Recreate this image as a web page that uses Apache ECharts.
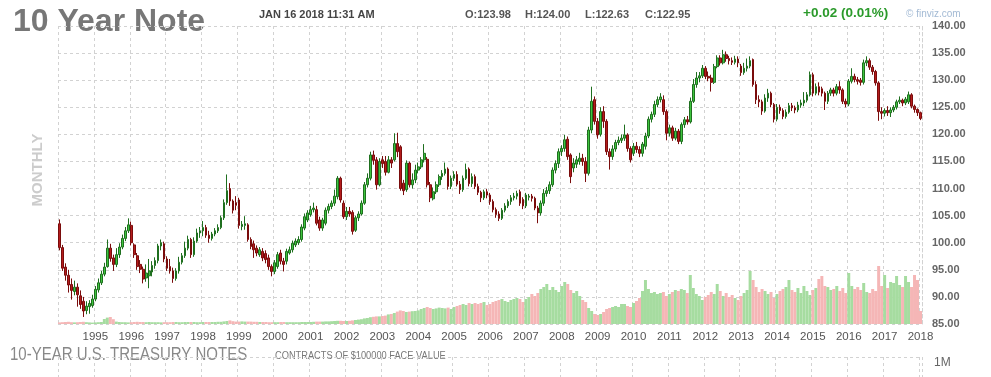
<!DOCTYPE html>
<html><head><meta charset="utf-8">
<script src="https://cdn.jsdelivr.net/npm/echarts@6/dist/echarts.min.js"></script>
<style>html,body{margin:0;padding:0;background:#fff}#c{width:991px;height:377px}</style>
</head><body><div id="c"></div>
<script>
// ---- data (monthly, Jan 1994 .. Jan 2018), rows = [open, close, low, high]
const startYear = 1994;
const candles = [
// 1994
[103.5,99.1,98.6,104.3],[99.1,95.3,94.8,99.6],[95.5,94.0,93.0,96.2],[94.0,92.2,90.8,95.0],[92.3,91.2,89.5,93.4],[91.0,91.8,90.3,93.0],[91.8,90.4,88.2,92.5],[90.2,88.6,87.8,91.2],[89.2,87.4,86.3,90.0],[87.5,88.3,86.8,89.2],[88.2,88.8,86.9,89.4],[88.4,89.6,88.0,90.4],
// 1995
[89.6,91.4,89.2,92.0],[91.3,92.6,90.8,93.4],[92.6,94.2,92.2,94.8],[94.2,95.5,93.8,96.3],[95.6,99.0,95.4,100.6],[99.0,97.1,96.5,99.8],[97.2,96.0,94.8,97.8],[96.0,97.8,95.5,99.0],[97.8,99.2,97.2,99.9],[99.2,100.8,98.8,101.5],[100.8,102.2,100.3,102.9],[102.2,103.3,101.8,104.5],
// 1996
[103.2,100.0,99.5,103.9],[99.6,97.8,97.2,99.9],[97.6,95.6,95.0,98.1],[96.0,95.1,94.4,96.8],[95.1,93.3,92.5,95.6],[93.5,94.4,92.8,96.0],[93.9,94.8,91.6,97.0],[94.6,95.8,93.8,96.6],[95.8,96.7,95.2,97.3],[96.7,99.4,96.2,99.8],[99.4,100.0,98.6,100.6],[99.8,97.0,96.4,100.2],
// 1997
[97.0,95.3,94.8,97.5],[95.6,94.8,94.3,97.0],[94.8,93.4,92.6,95.4],[93.4,94.8,93.0,95.3],[94.8,96.4,94.3,97.4],[96.4,97.6,96.0,98.1],[97.6,99.0,97.2,100.2],[99.0,100.6,98.6,101.3],[100.6,97.8,97.2,100.9],[97.8,100.3,97.4,101.0],[100.3,101.8,100.0,102.6],[101.8,102.2,100.9,102.9],
// 1998
[102.2,102.8,101.2,104.0],[102.8,101.4,100.9,103.3],[101.4,100.8,100.0,102.2],[100.8,101.6,100.4,102.0],[101.6,102.2,101.2,102.7],[102.2,102.8,101.8,103.4],[102.8,104.6,102.5,105.0],[104.6,107.4,104.2,108.0],[107.4,109.6,107.0,112.6],[110.0,107.7,106.8,111.0],[107.7,106.0,105.4,108.0],[107.4,106.9,106.0,108.6],
// 1999
[107.9,103.2,102.6,108.3],[103.0,103.4,102.3,104.0],[103.2,103.5,102.4,104.9],[103.3,100.6,100.2,103.6],[100.6,99.3,98.8,101.0],[99.8,98.7,97.2,100.4],[99.0,98.1,97.5,99.5],[97.8,98.7,97.4,99.2],[98.4,97.2,96.6,99.0],[98.0,96.9,96.2,98.6],[97.2,95.6,95.0,97.8],[95.6,94.7,93.8,96.0],
// 2000
[94.7,96.3,94.2,96.8],[95.6,97.8,95.2,98.3],[98.1,96.6,96.0,98.7],[96.6,96.0,94.7,97.2],[96.6,98.4,96.0,98.9],[98.1,98.7,97.8,99.3],[98.7,99.9,98.2,100.4],[99.6,100.3,99.2,100.8],[100.0,100.6,99.6,101.2],[100.6,102.9,100.2,103.4],[102.7,104.8,102.3,105.4],[104.2,105.5,103.8,106.0],
// 2001
[105.2,106.1,104.8,106.8],[106.1,106.4,105.6,107.4],[106.1,103.6,103.2,106.8],[104.2,102.7,102.2,104.8],[102.7,104.2,102.2,104.6],[103.6,106.0,103.2,106.5],[106.0,106.7,105.4,107.2],[106.7,107.3,106.2,107.8],[107.3,108.6,106.8,109.8],[108.5,111.9,108.0,112.3],[111.9,107.9,107.4,112.2],[107.3,104.8,104.4,107.8],
// 2002
[104.8,105.8,104.2,106.6],[105.8,105.3,104.8,106.6],[105.6,102.1,101.5,106.0],[102.3,104.6,102.0,105.0],[104.6,105.3,104.0,105.8],[105.3,107.3,105.0,107.8],[107.3,110.7,107.0,111.2],[110.7,111.9,110.2,112.8],[111.9,116.2,111.5,116.8],[116.2,115.2,114.4,117.0],[115.3,110.7,109.8,115.8],[110.7,115.0,110.4,115.6],
// 2003
[115.3,114.6,113.8,116.0],[115.0,113.0,112.4,116.0],[113.0,115.3,112.8,116.0],[115.3,114.7,113.8,115.8],[115.3,118.3,115.0,120.2],[118.3,116.8,115.8,120.3],[117.7,110.0,109.6,118.0],[111.0,109.6,108.8,111.6],[109.8,114.7,109.4,115.2],[114.7,110.7,110.2,115.0],[110.7,111.6,110.0,112.8],[111.6,113.4,111.0,114.4],
// 2004
[113.4,114.0,112.8,114.8],[114.0,115.3,113.6,115.8],[115.3,116.5,114.8,118.2],[115.4,110.7,110.2,115.8],[110.7,108.3,107.5,111.2],[108.1,109.4,107.8,110.2],[109.4,110.7,109.0,111.3],[110.7,112.2,110.3,112.6],[112.2,112.8,111.6,113.4],[112.8,113.6,112.4,114.8],[113.6,110.4,109.8,113.9],[110.4,111.9,109.9,112.4],
// 2005
[111.9,112.6,111.4,113.2],[112.6,110.8,110.4,113.2],[110.8,109.8,109.0,111.4],[109.8,111.9,109.4,112.4],[111.9,113.5,111.6,114.6],[113.6,110.9,110.4,113.9],[110.9,112.2,110.3,112.8],[112.2,110.4,109.9,112.6],[110.4,109.3,108.8,110.9],[109.3,108.3,107.5,109.6],[108.3,109.4,107.9,109.8],[109.4,108.8,108.2,109.9],
// 2006
[108.8,107.6,107.0,109.2],[107.6,106.1,105.6,108.0],[106.1,105.2,104.6,106.5],[105.3,104.5,104.0,105.8],[104.5,106.0,104.2,106.4],[106.0,106.8,105.6,107.3],[106.8,107.6,106.4,108.0],[107.6,108.3,107.0,108.8],[108.3,108.6,107.8,109.2],[108.6,109.1,108.0,109.6],[109.4,107.3,106.8,109.8],[108.0,106.8,106.2,108.4],
// 2007
[106.8,108.8,106.4,109.2],[108.4,108.6,107.8,109.0],[108.6,108.2,107.6,109.0],[108.2,106.4,106.0,108.5],[106.4,105.5,103.6,106.8],[105.5,107.3,105.0,107.8],[107.3,109.1,106.8,109.9],[109.1,109.6,108.5,110.3],[109.6,110.7,109.0,111.3],[110.7,113.4,110.3,113.9],[113.4,114.6,112.8,115.2],[114.6,116.8,113.8,117.4],
// 2008
[116.8,117.4,116.0,118.0],[117.4,119.0,116.8,119.9],[119.1,115.9,115.3,119.6],[116.2,112.2,111.0,116.5],[113.8,114.7,113.0,115.6],[114.5,115.3,113.8,116.0],[115.0,115.6,114.4,116.6],[115.6,115.0,114.2,116.4],[115.0,112.8,111.2,115.8],[112.8,120.8,112.4,121.4],[120.8,126.1,120.2,128.8],[126.4,122.4,121.8,127.0],
// 2009
[122.4,119.9,119.2,123.0],[120.0,124.2,119.6,125.0],[124.2,122.4,121.2,125.2],[122.4,116.8,116.2,122.8],[116.8,115.9,113.5,117.4],[115.9,117.3,115.3,118.0],[117.3,118.5,116.8,119.0],[118.5,118.9,118.0,119.6],[118.9,119.3,118.4,120.0],[119.3,119.9,118.8,121.8],[119.9,117.4,116.8,120.2],[117.4,115.3,114.8,117.8],
// 2010
[116.5,117.8,116.0,118.4],[117.8,117.2,116.6,118.6],[117.2,116.5,115.8,117.8],[116.5,118.2,115.9,118.6],[117.8,119.7,117.2,120.3],[119.7,122.8,119.3,123.3],[122.8,123.7,122.2,124.2],[123.7,125.5,123.2,126.2],[125.5,126.4,125.0,127.0],[126.4,126.9,125.9,127.6],[126.4,124.2,123.6,127.2],[124.2,120.2,118.9,124.6],
// 2011
[120.2,121.2,119.6,121.8],[121.2,119.3,118.8,121.6],[119.3,120.6,118.9,121.2],[120.6,118.7,118.2,121.0],[118.7,121.8,118.2,122.2],[121.8,122.7,121.2,123.2],[122.7,122.3,121.8,123.4],[122.3,126.1,122.0,126.8],[126.1,129.2,125.8,130.2],[129.2,130.4,128.6,131.5],[130.4,130.8,129.6,131.5],[130.8,132.2,130.4,132.8],
// 2012
[132.2,130.7,130.2,132.6],[130.7,130.4,129.8,131.6],[130.4,129.6,127.9,131.0],[129.6,132.5,129.3,133.0],[132.5,134.1,132.2,134.6],[134.1,133.2,132.7,134.6],[133.2,134.7,132.9,135.6],[134.7,134.0,133.4,135.3],[134.0,133.6,132.9,134.5],[133.6,133.3,132.8,134.2],[133.3,133.9,132.9,134.5],[133.9,133.2,132.4,134.4],
// 2013
[132.6,131.4,130.8,133.0],[131.4,132.2,131.0,133.2],[132.2,132.6,131.6,134.0],[132.6,133.6,132.2,134.4],[133.8,129.2,128.8,134.0],[129.2,126.4,125.6,129.8],[126.4,126.0,125.0,127.2],[126.0,124.3,123.6,126.4],[124.3,126.7,124.0,127.4],[126.7,127.6,126.0,128.4],[127.6,125.5,125.0,127.9],[125.5,122.8,122.2,125.8],
// 2014
[122.8,125.0,122.4,125.6],[125.0,124.4,123.8,125.5],[124.4,123.3,122.8,124.8],[123.3,124.1,122.9,124.6],[124.1,125.3,123.8,125.8],[125.3,124.9,124.3,125.8],[124.9,124.5,123.9,125.3],[124.5,125.4,124.1,126.0],[125.4,125.8,124.9,126.4],[125.8,126.3,125.2,127.8],[126.3,127.3,125.9,127.8],[127.3,131.0,127.0,131.6],
// 2015
[131.0,127.6,127.0,131.4],[127.6,128.8,127.2,129.4],[128.8,127.8,127.2,129.6],[128.4,127.6,127.0,128.8],[127.6,126.1,124.5,127.9],[126.1,127.6,125.6,128.0],[127.6,128.2,127.1,128.6],[128.2,127.6,127.0,128.6],[127.6,128.8,127.2,129.3],[128.8,128.2,127.5,129.8],[128.2,126.1,125.6,128.5],[126.1,125.6,125.0,126.6],
// 2016
[125.6,129.8,125.2,130.2],[129.8,130.7,129.4,132.2],[130.7,130.1,129.6,131.2],[130.1,129.8,129.2,130.6],[130.0,129.6,129.0,130.4],[129.6,133.2,129.2,133.8],[133.2,133.6,132.6,134.4],[133.6,132.4,131.9,134.0],[132.4,131.6,131.0,132.8],[131.6,129.5,129.0,131.9],[129.5,124.2,122.5,129.8],[124.2,123.9,122.8,125.0],
// 2017
[123.9,124.4,123.3,124.8],[124.4,124.0,123.4,125.2],[124.0,124.5,123.2,125.0],[124.5,125.0,124.1,125.4],[125.0,126.0,124.6,126.4],[126.0,126.3,125.6,127.0],[126.3,125.8,125.2,126.6],[125.8,126.5,125.4,126.9],[126.0,127.3,125.6,127.9],[127.3,125.2,124.8,127.6],[125.2,124.6,124.0,125.5],[124.6,124.0,123.4,124.8],
// 2018
[124.0,122.95,122.63,124.2]
];
// monthly volume, thousand contracts
const volumes = [
800,900,1000,1100,900,800,900,1000,1100,900,800,700,
800,900,1000,2500,3200,3500,2400,1200,1000,900,900,800,
900,1000,1100,1000,1000,900,1000,900,900,900,800,900,
900,900,1000,1000,900,900,1000,1000,1000,1000,900,900,
1000,1000,1000,1000,1000,1100,1100,1300,1500,1800,1400,1200,
1200,1300,1200,1200,1200,1100,1100,1000,1000,1000,900,900,
900,900,1000,1000,900,900,900,900,900,1000,1000,1000,
1000,1100,1200,1200,1200,1300,1300,1400,1500,1600,1600,1500,
1500,1600,1800,2000,2200,2400,2800,3000,3400,3600,3800,3800,
4000,4200,4800,5000,5500,6200,6800,6500,6000,6200,6400,6500,
6800,7500,8000,8500,8000,7500,7800,8200,8000,7800,8200,7500,
8500,9000,9500,10000,9500,10500,10000,10500,10000,10500,11000,9500,
10000,11000,11500,12000,12500,11500,11000,12000,12500,13000,12500,11000,
12500,13500,15000,14000,15500,17500,18500,20000,17000,18500,17000,16000,
19000,21000,20000,17000,15500,16500,14000,12000,11000,8000,6500,5000,
4500,5000,6000,7500,8000,8500,9000,8500,10000,10000,9000,8500,
10500,11500,13000,16500,22000,17500,15500,16000,15000,15500,16000,14000,
15000,16000,17000,16500,17500,17000,15500,24500,18000,15000,14000,12000,
13500,14500,16000,15000,20000,16500,14000,15500,13500,14500,13000,12000,
14000,15500,17000,26500,22000,18500,16000,17500,16500,15000,16000,13000,
15000,16500,17500,18500,22000,17000,16000,18000,15500,19000,16500,14500,
17000,18000,22500,24000,19000,18500,17000,17500,19000,16500,18000,15500,
25500,19000,17500,18500,17000,20500,16000,15500,17500,16500,29000,19000,
24500,18000,21000,20500,24000,19500,18500,24000,21000,18500,24500,22000,
6500
];
const priceMin = 85, priceMax = 140, priceStep = 5;
const volumeAxisMax = 149000;
const lastClose = 122.95;
const months = candles.map((_, i) => (startYear + Math.floor(i / 12)) + '-' + String(i % 12 + 1).padStart(2, '0'));

const GRID = '#d2d2d2';
const SANS = '"Liberation Sans", Arial, sans-serif';
const isJan = (i) => i % 12 === 0;

const chart = echarts.init(document.getElementById('c'), null, {renderer: 'canvas'});
chart.setOption({
  animation: false,
  backgroundColor: '#fff',
  grid: [
    {left: 58, right: 69, top: 26, bottom: 53},
    {left: 58, right: 69, top: 357, height: 40}
  ],
  xAxis: [
    {type: 'category', gridIndex: 0, data: months, boundaryGap: true,
     axisLine: {show: false}, axisTick: {show: false},
     axisLabel: {interval: (i) => isJan(i) && i > 0, formatter: (v) => v.slice(0, 4),
                 color: '#555', fontSize: 11.5, fontFamily: SANS, margin: 7},
     splitLine: {show: true, interval: (i) => isJan(i), lineStyle: {color: GRID, type: [3, 3]}}},
    {type: 'category', gridIndex: 1, data: months, boundaryGap: true,
     axisLine: {show: false}, axisTick: {show: false}, axisLabel: {show: false},
     splitLine: {show: true, interval: (i) => isJan(i), lineStyle: {color: GRID, type: [3, 3]}}}
  ],
  yAxis: [
    {type: 'value', gridIndex: 0, position: 'right', min: priceMin, max: priceMax, interval: priceStep,
     axisLine: {show: true, lineStyle: {color: GRID, type: [3, 3]}}, axisTick: {show: false},
     axisLabel: {formatter: (v) => v.toFixed(2), color: '#666', fontSize: 11, fontWeight: 'bold', fontFamily: SANS, margin: 10},
     splitLine: {show: true, lineStyle: {color: GRID, type: [3, 3]}}},
    {type: 'value', gridIndex: 0, min: 0, max: volumeAxisMax, show: false},
    {type: 'value', gridIndex: 1, position: 'right', min: 0, max: 1, interval: 1,
     axisLine: {show: false}, axisTick: {show: false},
     axisLabel: {formatter: (v) => v === 1 ? '1M' : '', color: '#666', fontSize: 12, fontFamily: SANS, margin: 12, verticalAlign: 'top'},
     splitLine: {show: true, lineStyle: {color: GRID, type: [3, 3]}}}
  ],
  series: [
    {type: 'bar', xAxisIndex: 0, yAxisIndex: 1, barCategoryGap: '0%', silent: true, z: 1,
     data: volumes.map((v, i) => ({value: v, itemStyle: {color: candles[i][1] >= candles[i][0] ? '#a6dca0' : '#f5b6b6'}}))},
    {type: 'candlestick', xAxisIndex: 0, yAxisIndex: 0, z: 3, barWidth: '72%',
     data: candles,
     itemStyle: {color: '#3ec43e', color0: '#b41c1c', borderColor: '#1f6f1f', borderColor0: '#7a0c0c', borderWidth: 1},
     markLine: {silent: true, symbol: 'none', animation: false,
       data: [{yAxis: lastClose}],
       lineStyle: {opacity: 0},
       label: {show: true, position: 'end', distance: 7, formatter: () => lastClose.toFixed(2),
               backgroundColor: '#ffff00', color: '#000', fontWeight: 'bold', fontSize: 11, fontFamily: SANS, padding: [2, 2, 1, 2]}}},
    {type: 'line', xAxisIndex: 1, yAxisIndex: 2, data: [], silent: true}
  ],
  graphic: [
    {type: 'text', x: 13, y: 6, style: {text: '10 Year Note', font: 'bold 32px ' + SANS, fill: '#777777', verticalAlign: 'top'}},
    {type: 'text', x: 259, y: 9, style: {text: 'JAN 16 2018 11:31 AM', font: 'bold 11px ' + SANS, fill: '#444', verticalAlign: 'top'}},
    {type: 'text', x: 465, y: 9, style: {text: 'O:123.98', font: 'bold 11px ' + SANS, fill: '#555', verticalAlign: 'top'}},
    {type: 'text', x: 525, y: 9, style: {text: 'H:124.00', font: 'bold 11px ' + SANS, fill: '#555', verticalAlign: 'top'}},
    {type: 'text', x: 585, y: 9, style: {text: 'L:122.63', font: 'bold 11px ' + SANS, fill: '#555', verticalAlign: 'top'}},
    {type: 'text', x: 645, y: 9, style: {text: 'C:122.95', font: 'bold 11px ' + SANS, fill: '#555', verticalAlign: 'top'}},
    {type: 'text', x: 803, y: 6, style: {text: '+0.02 (0.01%)', font: 'bold 13.5px ' + SANS, fill: '#2b9a2b', verticalAlign: 'top'}},
    {type: 'text', x: 906, y: 9, style: {text: '\u00a9 finviz.com', font: '10px ' + SANS, fill: '#a3bad4', verticalAlign: 'top'}},
    {type: 'text', x: 38, y: 170, rotation: Math.PI / 2,
     style: {text: 'MONTHLY', font: 'bold 15px ' + SANS, fill: '#cccccc', align: 'center', verticalAlign: 'middle'}},
    {type: 'text', x: 10, y: 346, scaleX: 0.82, style: {text: '10-YEAR U.S. TREASURY NOTES', font: '18.3px ' + SANS, fill: '#888', verticalAlign: 'top'}},
    {type: 'text', x: 275, y: 350, scaleX: 0.82, style: {text: 'CONTRACTS OF $100000 FACE VALUE', font: '11.3px ' + SANS, fill: '#777', verticalAlign: 'top'}}
  ]
});
</script>
</body></html>
